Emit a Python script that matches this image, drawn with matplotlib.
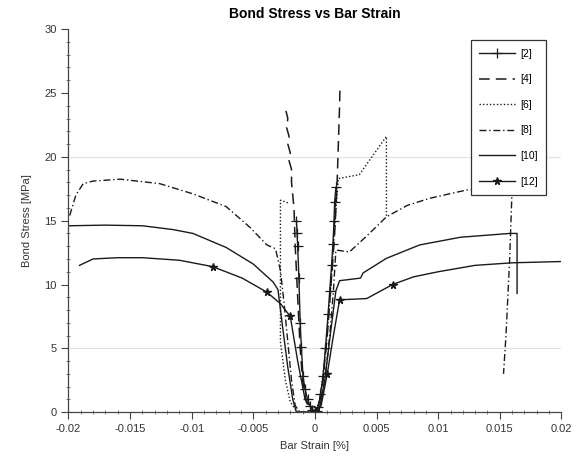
import matplotlib
matplotlib.use('Agg')
import matplotlib.pyplot as plt
from matplotlib.ticker import MultipleLocator

matplotlib.rcParams['font.family'] = ['Liberation Sans', 'DejaVu Sans']
matplotlib.rcParams['font.size'] = 8.0

labels = ['[2]', '[4]', '[6]', '[8]', '[10]', '[12]']

# bar strain [%] / bond stress [MPa] for each reference
strain_2 = [-0.0015, -0.00145, -0.0014, -0.0013, -0.0012, -0.0011, -0.00097, -0.0008,
            -0.0006, -0.0004, -0.0002, 0.0, 0.00015, 0.00027, 0.00045, 0.00066, 0.00085,
            0.00107, 0.0012, 0.00135, 0.00146, 0.00155, 0.0016, 0.0017]
stress_2 = [15.0, 14.0, 13.0, 10.5, 7.0, 5.1, 2.8, 1.8, 1.0, 0.5, 0.15, 0.0, 0.1, 0.4,
            1.4, 2.8, 5.0, 7.7, 9.5, 11.5, 13.2, 15.0, 16.5, 17.6]

strain_4 = [-0.00235, -0.0022, -0.0023, -0.0021, -0.0022, -0.0020, -0.0021, -0.0019,
            -0.0019, -0.0017, -0.0016, -0.0014, -0.0012, -0.001, -0.0007, -0.0003, 0.0,
            0.0002, 0.0006, 0.001, 0.0013, 0.0016, 0.0018, 0.0019, 0.002, 0.00203]
stress_4 = [23.6, 23.0, 22.3, 21.6, 21.0, 20.3, 19.7, 19.0, 18.0, 16.0, 13.0, 9.0, 5.0,
            2.5, 0.8, 0.1, 0.0, 0.0, 2.0, 6.0, 10.0, 14.0, 18.0, 21.0, 24.0, 25.5]

strain_6 = [-0.0022, -0.0028, -0.0028, -0.0024, -0.002, -0.0015, -0.0008, 0.0, 0.0004,
            0.0009, 0.0013, 0.0016, 0.0019, 0.0036, 0.0058, 0.0058]
stress_6 = [16.4, 16.6, 5.5, 2.5, 0.8, 0.1, 0.0, 0.0, 1.0, 5.0, 10.0, 14.5, 18.3, 18.6,
            21.6, 15.3]

strain_8 = [-0.0199, -0.0194, -0.0188, -0.018, -0.0158, -0.0126, -0.0099, -0.0072,
            -0.0053, -0.0039, -0.0032, -0.0028, -0.0025, -0.0022, -0.0019, -0.0016,
            -0.0012, 0.0, 0.0003, 0.0008, 0.0012, 0.0015, 0.0017, 0.0028, 0.0042, 0.0058,
            0.0075, 0.0093, 0.0123, 0.0147, 0.016, 0.0158, 0.0155, 0.0153]
stress_8 = [15.4, 17.0, 17.9, 18.1, 18.25, 17.9, 17.1, 16.1, 14.5, 13.1, 12.8, 11.1, 8.5,
            5.5, 2.5, 0.5, 0.0, 0.0, 0.0, 2.5, 6.0, 9.5, 12.7, 12.55, 13.8, 15.3, 16.2,
            16.75, 17.4, 17.55, 17.6, 12.0, 6.0, 3.0]

strain_10 = [-0.02, -0.017, -0.014, -0.0115, -0.0099, -0.0072, -0.005, -0.0034, -0.003,
             -0.0026, -0.0022, -0.0018, -0.0015, 0.0, 0.0003, 0.0008, 0.0013, 0.0017,
             0.002, 0.0037, 0.0039, 0.0058, 0.0085, 0.0118, 0.0158, 0.0164, 0.0164]
stress_10 = [14.6, 14.65, 14.6, 14.3, 14.0, 12.9, 11.6, 10.2, 9.6, 6.5, 3.5, 1.0, 0.0,
             0.0, 0.0, 2.5, 6.5, 9.5, 10.3, 10.5, 10.9, 12.05, 13.1, 13.7, 14.0, 14.0, 9.3]

strain_12 = [-0.0191, -0.018, -0.016, -0.014, -0.011, -0.0083, -0.0059, -0.0039, -0.0028,
             -0.002, -0.0014, -0.0008, 0.0, 0.0005, 0.001, 0.0015, 0.002, 0.0042, 0.0063,
             0.008, 0.010, 0.013, 0.016, 0.02]
stress_12 = [11.5, 12.0, 12.1, 12.1, 11.9, 11.4, 10.5, 9.4, 8.5, 7.5, 4.0, 1.0, 0.0, 0.5,
             3.0, 6.0, 8.8, 8.9, 10.0, 10.6, 11.0, 11.5, 11.7, 11.8]
stars_12 = [5, 7, 9, 12, 14, 16, 18]

fig = plt.figure(figsize=(5.8, 4.7), dpi=100)
ax = fig.add_axes([0.118, 0.123, 0.85, 0.815])

ink = '#1a1a1a'
for y in (5, 20):
    ax.axhline(y, color='#e2e2e2', lw=0.8, zorder=0)

ax.plot(strain_2, stress_2, color=ink, lw=1.0, marker='+', ms=6.5, mew=0.9, label=labels[0])
ax.plot(strain_4, stress_4, color=ink, lw=1.1, ls=(0, (7, 4)), label=labels[1])
ax.plot(strain_6, stress_6, color=ink, lw=1.0, ls=(0, (1, 1.5)), label=labels[2])
ax.plot(strain_8, stress_8, color=ink, lw=1.0, ls=(0, (5, 2, 1, 2)), label=labels[3])
ax.plot(strain_10, stress_10, color=ink, lw=1.0, label=labels[4])
ax.plot(strain_12, stress_12, color=ink, lw=1.0, marker='*', ms=5.5, markevery=stars_12,
        label=labels[5])

ax.set_xlim(-0.02, 0.02)
ax.set_ylim(0, 30)
ax.xaxis.set_major_locator(MultipleLocator(0.005))
ax.xaxis.set_minor_locator(MultipleLocator(0.001))
ax.yaxis.set_major_locator(MultipleLocator(5))
ax.yaxis.set_minor_locator(MultipleLocator(1))
ax.set_xticks([-0.02, -0.015, -0.01, -0.005, 0, 0.005, 0.01, 0.015, 0.02])
ax.set_xticklabels(['-0.02', '-0.015', '-0.01', '-0.005', '0', '0.005', '0.01', '0.015', '0.02'])

for side in ('top', 'right'):
    ax.spines[side].set_visible(False)
for side in ('left', 'bottom'):
    ax.spines[side].set_color('#444444')
    ax.spines[side].set_linewidth(0.9)
ax.tick_params(which='major', direction='out', length=5, color='#444444', labelsize=8,
               labelcolor='#333333')
ax.tick_params(which='minor', direction='inout', length=3, color='#666666')

ax.set_title('Bond Stress vs Bar Strain', fontsize=10, fontweight='bold', pad=8)
ax.set_xlabel('Bar Strain [%]', fontsize=8, color='#333333', labelpad=5)
ax.set_ylabel('Bond Stress [MPa]', fontsize=8, color='#333333', labelpad=9)

leg = ax.legend(loc='upper right', bbox_to_anchor=(0.969, 0.971), borderaxespad=0,
                fontsize=7.5, handlelength=3.4, labelspacing=1.5, fancybox=False,
                framealpha=1, edgecolor='#333333', borderpad=0.8, handletextpad=0.5)
leg.get_frame().set_linewidth(0.9)

fig.savefig('out.png', dpi=100)
